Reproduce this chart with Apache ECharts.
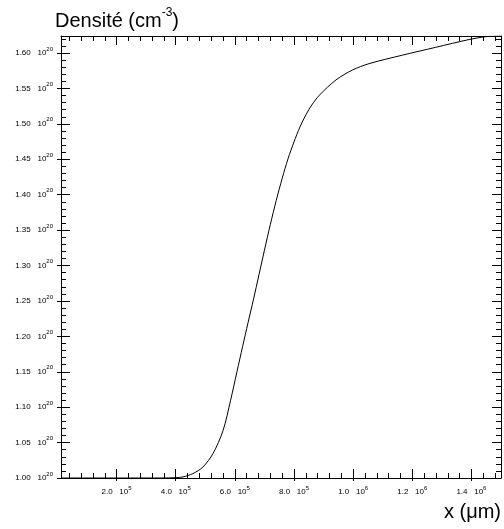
<!DOCTYPE html>
<html>
<head>
<meta charset="utf-8">
<script src="https://cdn.jsdelivr.net/npm/echarts@6/dist/echarts.min.js"></script>
<style>
  html, body { margin: 0; padding: 0; background: #fff; }
  #chart { width: 504px; height: 529px; }
</style>
</head>
<body>
<div id="chart"></div>
<script>
// valeurs (x en um, densité en 1e20 cm^-3)
const xValues = [1.2e4, 2.0e5, 3.5e5, 4.0e5, 4.24e5, 4.58e5, 4.92e5, 5.26e5, 5.60e5, 5.855e5,
  6.074e5, 6.26e5, 6.445e5, 6.631e5, 7.0e5, 7.2e5, 7.4e5, 7.6e5, 7.8e5, 8.0e5,
  8.2e5, 8.4e5, 8.6e5, 8.86e5, 9.42e5, 9.98e5, 1.054e6, 1.167e6, 1.279e6, 1.392e6, 1.448e6, 1.5e6]
const densite = [1.000, 1.000, 1.000, 1.0005, 1.0015, 1.0062, 1.0155, 1.0345, 1.067, 1.1097,
  1.1507, 1.1853, 1.2192, 1.2525, 1.3216, 1.358, 1.392, 1.423, 1.451, 1.4745,
  1.4955, 1.5125, 1.5265, 1.5405, 1.562, 1.576, 1.585, 1.597, 1.608, 1.619, 1.623, 1.624]

const xMin = 1.2e4, xMax = 1.5e6
const yMin = 1.0, yMax = 1.624

const xTicks = [2e5, 4e5, 6e5, 8e5, 1.0e6, 1.2e6, 1.4e6]
const xTickMantissa = ['2.0', '4.0', '6.0', '8.0', '1.0', '1.2', '1.4']
const xTickExp = ['5', '5', '5', '5', '6', '6', '6']

const yTicks = [1.00, 1.05, 1.10, 1.15, 1.20, 1.25, 1.30, 1.35, 1.40, 1.45, 1.50, 1.55, 1.60]
const yTickMantissa = ['1.00', '1.05', '1.10', '1.15', '1.20', '1.25', '1.30', '1.35', '1.40', '1.45', '1.50', '1.55', '1.60']
const yTickExp = '20'

// petites graduations : 5 subdivisions
function minors(step, lo, hi) {
  const out = []
  const sub = step / 5
  const start = Math.ceil(lo / sub - 1e-9)
  for (let k = start; k * sub <= hi + 1e-9; k++) {
    if (k % 5 !== 0) out.push(+(k * sub).toFixed(6))
  }
  return out
}
const xMinor = minors(2e5, xMin, xMax)
const yMinor = minors(0.05, yMin, yMax)

const FONT = 'Liberation Sans'
// exposant : petit token aligné en haut d'une ligne plus haute
const labelRich = {
  m: {fontSize: 8, fontFamily: FONT, color: '#000', lineHeight: 14, verticalAlign: 'middle'},
  e: {fontSize: 6, fontFamily: FONT, color: '#000', lineHeight: 6, verticalAlign: 'top'}
}

function findIdx(arr, v) {
  return arr.findIndex(t => Math.abs(t - v) < 1e-6 * Math.max(1, Math.abs(t)))
}

// un axe de base, on empile plusieurs axes pour imiter les graduations du cadre
function axis(kind, pos, opts) {
  const isX = kind === 'x'
  const a = {
    type: 'value',
    position: pos,
    min: isX ? xMin : yMin,
    max: isX ? xMax : yMax,
    splitLine: {show: false},
    axisLine: {show: !!opts.line, lineStyle: {color: '#000', width: 1}},
    axisTick: {
      show: true,
      inside: opts.inside,
      length: opts.len,
      customValues: opts.ticks,
      lineStyle: {color: '#000', width: 1}
    },
    axisLabel: {show: false}
  }
  if (opts.labels) {
    a.axisLabel = {
      show: true,
      customValues: opts.ticks,
      margin: opts.margin,
      rich: labelRich,
      formatter: function (v) {
        if (isX) {
          const i = findIdx(xTicks, v)
          return i < 0 ? '' : '{m|' + xTickMantissa[i] + '   10}{e|' + xTickExp[i] + '}'
        }
        const i = findIdx(yTicks, v)
        return i < 0 ? '' : '{m|' + yTickMantissa[i] + '   10}{e|' + yTickExp + '}'
      }
    }
  }
  return a
}

const chart = echarts.init(document.getElementById('chart'))

const option = {
  animation: false,
  backgroundColor: '#fff',
  title: [
    {
      text: '{t|Densité (cm}{s|-3}{t|)}',
      left: 55,
      top: 7,
      padding: 0,
      textStyle: {
        fontWeight: 'normal',
        rich: {
          t: {fontSize: 20, fontFamily: FONT, fontWeight: 'normal', color: '#000', lineHeight: 28, verticalAlign: 'middle'},
          s: {fontSize: 12, fontFamily: FONT, fontWeight: 'normal', color: '#000', lineHeight: 18, verticalAlign: 'top'}
        }
      }
    },
    {
      text: 'x (μm)',
      right: 3,
      top: 501,
      padding: 0,
      textStyle: {fontSize: 20, fontFamily: FONT, fontWeight: 'normal', color: '#000', lineHeight: 22}
    }
  ],
  grid: {left: 61, right: 3, top: 36, bottom: 51, containLabel: false},
  xAxis: [
    axis('x', 'bottom', {line: true, inside: true, len: 9, ticks: xTicks, labels: true, margin: 7}),
    axis('x', 'bottom', {inside: false, len: 3, ticks: xTicks}),
    axis('x', 'bottom', {inside: true, len: 5, ticks: xMinor}),
    axis('x', 'top', {line: true, inside: true, len: 9, ticks: xTicks}),
    axis('x', 'top', {inside: true, len: 5, ticks: xMinor})
  ],
  yAxis: [
    axis('y', 'left', {line: true, inside: true, len: 9, ticks: yTicks, labels: true, margin: 8}),
    axis('y', 'left', {inside: false, len: 4, ticks: yTicks}),
    axis('y', 'left', {inside: true, len: 5, ticks: yMinor}),
    axis('y', 'right', {line: true, inside: true, len: 9, ticks: yTicks}),
    axis('y', 'right', {inside: true, len: 5, ticks: yMinor})
  ],
  series: [
    {
      type: 'line',
      xAxisIndex: 0,
      yAxisIndex: 0,
      data: xValues.map((x, i) => [x, densite[i]]),
      showSymbol: false,
      smooth: 0.3,
      clip: true,
      lineStyle: {color: '#000', width: 1}
    }
  ]
}

chart.setOption(option)
</script>
</body>
</html>
